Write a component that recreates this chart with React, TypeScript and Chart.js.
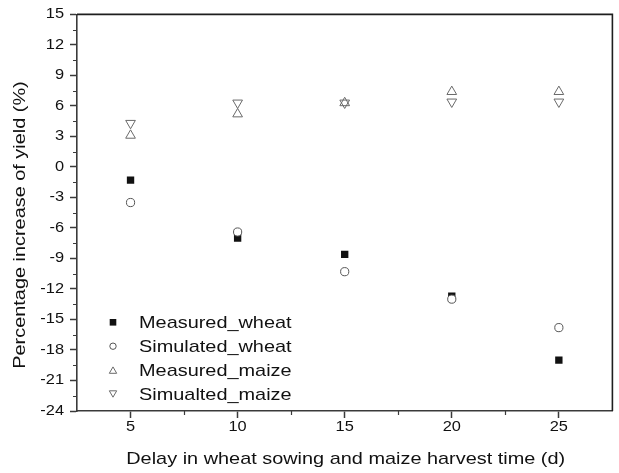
import { useEffect, useRef } from "react";
import { Chart, registerables } from "chart.js";

Chart.register(...registerables);

// Yield change (%) against the delay (days) of wheat sowing / maize harvest
const delayDays = [5, 10, 15, 20, 25];
const measuredWheat = [-1.3, -7.0, -8.6, -12.7, -19.0];
const simulatedWheat = [-3.5, -6.4, -10.3, -13.0, -15.8];
const measuredMaize = [3.1, 5.2, 6.3, 7.4, 7.4];
const simulatedMaize = [4.3, 6.3, 6.3, 6.4, 6.4];

const xTickValues = [5, 10, 15, 20, 25];
const yTickValues = [-24, -21, -18, -15, -12, -9, -6, -3, 0, 3, 6, 9, 12, 15];

const seriesLabels = ["Measured_wheat", "Simulated_wheat", "Measured_maize", "Simualted_maize"];
const xAxisTitle = "Delay in wheat sowing and maize harvest time (d)";
const yAxisTitle = "Percentage increase of yield (%)";

const FONT = "'Liberation Sans', Arial, Helvetica, sans-serif";
const AXIS_COLOR = "#3a3a3a";
const TEXT_COLOR = "#111";
// lettering is set a little wider than the regular face
const TEXT_STRETCH = 1.17;

type MarkerKind = "square" | "circle" | "up" | "down";
const markerKinds: MarkerKind[] = ["square", "circle", "up", "down"];

const toPoints = (ys: number[]) => ys.map((y, i) => ({ x: delayDays[i], y }));

const midpoints = (vals: number[]) =>
  vals.slice(1).map((v, i) => (v + vals[i]) / 2);

function drawLegendMarker(ctx: CanvasRenderingContext2D, kind: MarkerKind, x: number, y: number) {
  ctx.save();
  ctx.lineWidth = 1;
  if (kind === "square") {
    ctx.fillStyle = "#111";
    ctx.fillRect(x - 3.3, y - 3.3, 6.6, 6.6);
  } else if (kind === "circle") {
    ctx.strokeStyle = "#555";
    ctx.beginPath();
    ctx.arc(x, y, 3.2, 0, Math.PI * 2);
    ctx.stroke();
  } else {
    const w = 7.4;
    const h = 6.4;
    ctx.strokeStyle = "#6a6a6a";
    ctx.beginPath();
    if (kind === "up") {
      ctx.moveTo(x, y - h / 2);
      ctx.lineTo(x + w / 2, y + h / 2);
      ctx.lineTo(x - w / 2, y + h / 2);
    } else {
      ctx.moveTo(x, y + h / 2);
      ctx.lineTo(x + w / 2, y - h / 2);
      ctx.lineTo(x - w / 2, y - h / 2);
    }
    ctx.closePath();
    ctx.stroke();
  }
  ctx.restore();
}

const decorPlugin = {
  id: "decor",
  beforeInit(chart: any) {
    // stretch every text run horizontally around its anchor point
    const ctx = chart.ctx as any;
    if (ctx.__stretched) return;
    ctx.__stretched = true;
    const baseFill = ctx.fillText.bind(ctx);
    ctx.fillText = (text: string, x: number, y: number, maxWidth?: number) => {
      ctx.save();
      ctx.translate(x, y);
      ctx.scale(TEXT_STRETCH, 1);
      if (maxWidth === undefined) baseFill(text, 0, 0);
      else baseFill(text, 0, 0, maxWidth / TEXT_STRETCH);
      ctx.restore();
    };
  },
  beforeDatasetsDraw(chart: any) {
    const ctx = chart.ctx as CanvasRenderingContext2D;
    const { left, right, top, bottom } = chart.chartArea;
    const xs = chart.scales.x;
    const ys = chart.scales.y;

    ctx.save();
    ctx.strokeStyle = AXIS_COLOR;
    ctx.lineWidth = 1.2;
    // minor ticks
    ctx.beginPath();
    for (const v of midpoints(yTickValues)) {
      const py = Math.round(ys.getPixelForValue(v)) + 0.5;
      ctx.moveTo(left, py);
      ctx.lineTo(left - 4, py);
    }
    for (const v of midpoints(xTickValues)) {
      const px = Math.round(xs.getPixelForValue(v)) + 0.5;
      ctx.moveTo(px, bottom);
      ctx.lineTo(px, bottom + 4);
    }
    ctx.stroke();

    // closing frame: top and right edges
    ctx.strokeStyle = "#1e1e1e";
    ctx.lineWidth = 1.6;
    ctx.beginPath();
    ctx.moveTo(left, top);
    ctx.lineTo(right, top);
    ctx.lineTo(right, bottom);
    ctx.stroke();
    ctx.restore();
  },
  afterDraw(chart: any) {
    const ctx = chart.ctx as CanvasRenderingContext2D;
    const { left, right } = chart.chartArea;
    ctx.save();
    ctx.fillStyle = TEXT_COLOR;
    ctx.font = `17px ${FONT}`;
    ctx.textBaseline = "alphabetic";
    ctx.textAlign = "center";

    // x axis title
    ctx.fillText(xAxisTitle, (left + right) / 2 + 1, 464);

    // y axis title
    ctx.save();
    ctx.translate(25, 225);
    ctx.rotate(-Math.PI / 2);
    ctx.fillText(yAxisTitle, 0, 0);
    ctx.restore();

    // legend inside the plot area
    ctx.textAlign = "left";
    const firstBaseline = 328.3;
    const rowGap = 23.9;
    seriesLabels.forEach((label, i) => {
      const base = firstBaseline + i * rowGap;
      drawLegendMarker(ctx, markerKinds[i], 113, base - 6);
      ctx.fillText(label, 139, base);
    });
    ctx.restore();
  },
};

export default function App() {
  const canvasRef = useRef<HTMLCanvasElement>(null);

  useEffect(() => {
    const canvas = canvasRef.current;
    if (!canvas) return;

    const tickFont = { family: FONT, size: 14 };
    const grid = {
      display: true,
      drawOnChartArea: false,
      drawTicks: true,
      tickLength: 7,
      tickColor: AXIS_COLOR,
      tickWidth: 1.5,
    };
    const border = { display: true, color: AXIS_COLOR, width: 1.6 };

    const chart = new Chart(canvas, {
      type: "scatter",
      data: {
        datasets: [
          {
            label: seriesLabels[0],
            data: toPoints(measuredWheat),
            pointStyle: "rect",
            pointRadius: 5.2,
            pointHoverRadius: 5.2,
            backgroundColor: "#111",
            borderColor: "#111",
            borderWidth: 0,
            order: 1,
          },
          {
            label: seriesLabels[1],
            data: toPoints(simulatedWheat),
            pointStyle: "circle",
            pointRadius: 4.1,
            pointHoverRadius: 4.1,
            backgroundColor: "#fff",
            borderColor: "#555",
            borderWidth: 1,
            order: 0,
          },
          {
            label: seriesLabels[2],
            data: toPoints(measuredMaize),
            pointStyle: "triangle",
            pointRadius: 5.6,
            pointHoverRadius: 5.6,
            backgroundColor: "rgba(255,255,255,0)",
            borderColor: "#6a6a6a",
            borderWidth: 1,
            order: 2,
          },
          {
            label: seriesLabels[3],
            data: toPoints(simulatedMaize),
            pointStyle: "triangle",
            rotation: 180,
            pointRadius: 5.6,
            pointHoverRadius: 5.6,
            backgroundColor: "rgba(255,255,255,0)",
            borderColor: "#6a6a6a",
            borderWidth: 1,
            order: 3,
          },
        ],
      },
      options: {
        animation: false,
        responsive: false,
        devicePixelRatio: 1,
        events: [],
        layout: { padding: { top: 13, right: 3, left: 0, bottom: 0 } },
        plugins: {
          legend: { display: false },
          tooltip: { enabled: false },
        },
        scales: {
          x: {
            type: "linear",
            min: 2.5,
            max: 27.5,
            afterBuildTicks: (s: any) => {
              s.ticks = xTickValues.map((value) => ({ value }));
            },
            afterFit: (s: any) => {
              s.height = 62;
            },
            grid,
            border,
            ticks: {
              font: tickFont,
              color: TEXT_COLOR,
              padding: 1,
              maxRotation: 0,
              autoSkip: false,
              callback: (v: any) => String(v),
            },
          },
          y: {
            type: "linear",
            min: -24,
            max: 15,
            afterBuildTicks: (s: any) => {
              s.ticks = yTickValues.map((value) => ({ value }));
            },
            afterFit: (s: any) => {
              s.width = 77;
            },
            grid,
            border,
            ticks: {
              font: tickFont,
              color: TEXT_COLOR,
              padding: 6,
              autoSkip: false,
              callback: (v: any) => String(v),
            },
          },
        },
      },
      plugins: [decorPlugin],
    } as any);

    return () => chart.destroy();
  }, []);

  return (
    <canvas
      ref={canvasRef}
      width={619}
      height={473}
      style={{ position: "absolute", left: 0, top: 0, width: 619, height: 473 }}
    />
  );
}
